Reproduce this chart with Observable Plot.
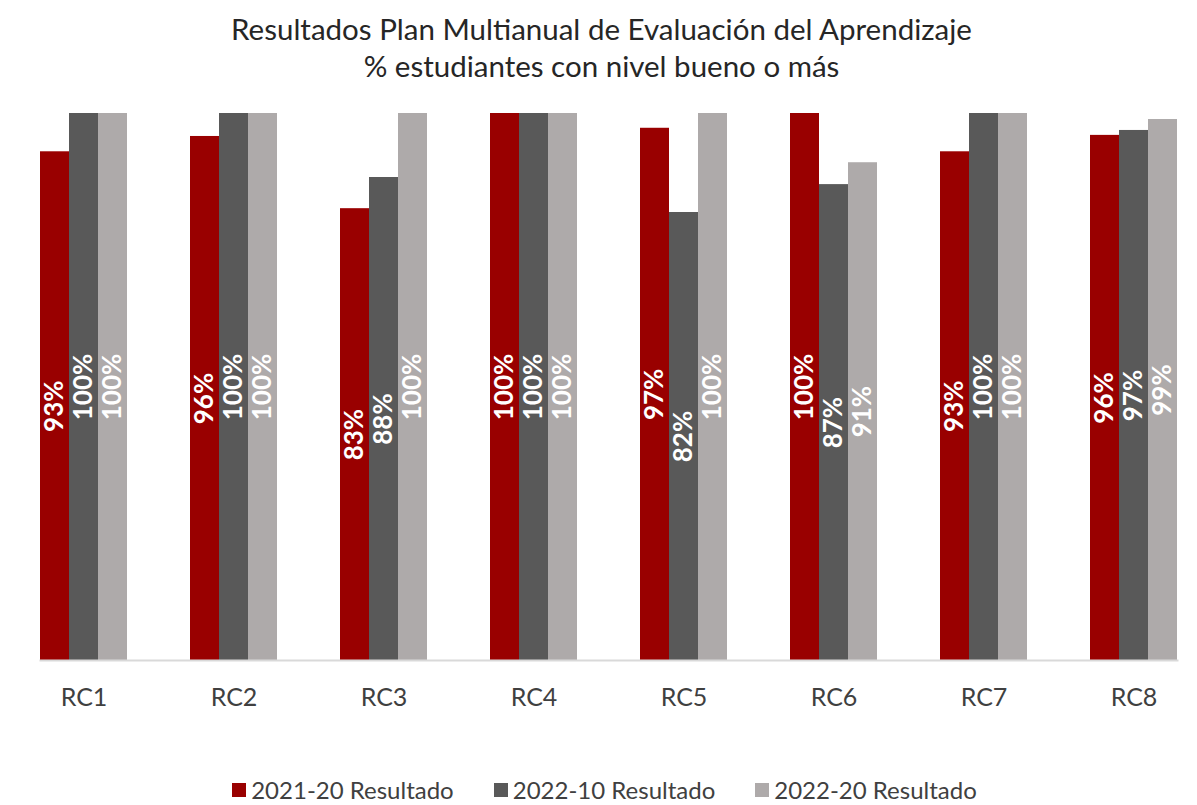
<!DOCTYPE html>
<html>
<head>
<meta charset="utf-8">
<script src="https://cdn.jsdelivr.net/npm/d3@7"></script>
<script src="https://cdn.jsdelivr.net/npm/@observablehq/plot@0.6"></script>
<style>
  html, body { margin: 0; padding: 0; background: #fff; }
  body { width: 1197px; height: 805px; overflow: hidden; font-family: Lato, "Open Sans", sans-serif; color: #404040; }
  #title { height: 100px; box-sizing: border-box; padding-top: 10px; padding-left: 6px; text-align: center; font-size: 29.5px; line-height: 37px; color: #262626; }
  #legend { display: flex; justify-content: center; align-items: center; gap: 40px; height: 45px; box-sizing: border-box; padding-top: 14px; padding-left: 12px; font-size: 24px; color: #404040; }
  .item { display: flex; align-items: center; }
  .sw { width: 14px; height: 14px; margin-right: 5px; }
</style>
</head>
<body>
<div id="title">Resultados Plan Multianual de Evaluación del Aprendizaje<br>% estudiantes con nivel bueno o más</div>
<div id="chart"></div>
<div id="legend"></div>
<script>
const categories = ["RC1", "RC2", "RC3", "RC4", "RC5", "RC6", "RC7", "RC8"];
const series = ["2021-20 Resultado", "2022-10 Resultado", "2022-20 Resultado"];
const colors = ["#990000", "#595959", "#aeaaaa"];
const values2021_20 = [93, 95.8, 82.6, 100, 97.3, 100, 93, 96];
const values2022_10 = [100, 100, 88.3, 100, 81.9, 87, 100, 96.9];
const values2022_20 = [100, 100, 100, 100, 100, 91, 100, 98.9];

const seriesValues = [values2021_20, values2022_10, values2022_20];
const data = [];
categories.forEach((c, i) => {
  series.forEach((s, j) => {
    data.push({cat: c, series: s, value: seriesValues[j][i]});
  });
});

const chart = Plot.plot({
  width: 1197,
  height: 660,
  marginTop: 13,
  marginBottom: 100,
  marginLeft: 10,
  marginRight: 2,
  style: {fontFamily: "Lato, 'Open Sans', sans-serif", background: "#fff"},
  fx: {domain: categories, paddingInner: 0.42, paddingOuter: 0.16, align: 0.625, label: null, axis: null},
  x: {domain: series, padding: 0, axis: null},
  y: {domain: [0, 100], axis: null},
  color: {domain: series, range: colors},
  marks: [
    Plot.barY(data, {fx: "cat", x: "series", y: "value", fill: "series"}),
    Plot.frame({anchor: "bottom", facet: "super", stroke: "#d9d9d9", strokeWidth: 2}),
    Plot.text(data, {
      fx: "cat", x: "series", y: d => d.value / 2,
      text: d => Math.round(d.value) + "%",
      rotate: -90, fill: "white", fontWeight: "bold", fontSize: 26
    }),
    Plot.axisFx({anchor: "bottom", tickSize: 0, tickPadding: 28, fontSize: 25, label: null, fill: "#404040"})
  ]
});
document.getElementById("chart").appendChild(chart);

const legend = d3.select("#legend");
series.forEach((s, j) => {
  const it = legend.append("div").attr("class", "item");
  it.append("div").attr("class", "sw").style("background", colors[j]);
  it.append("span").text(s);
});
</script>
</body>
</html>
